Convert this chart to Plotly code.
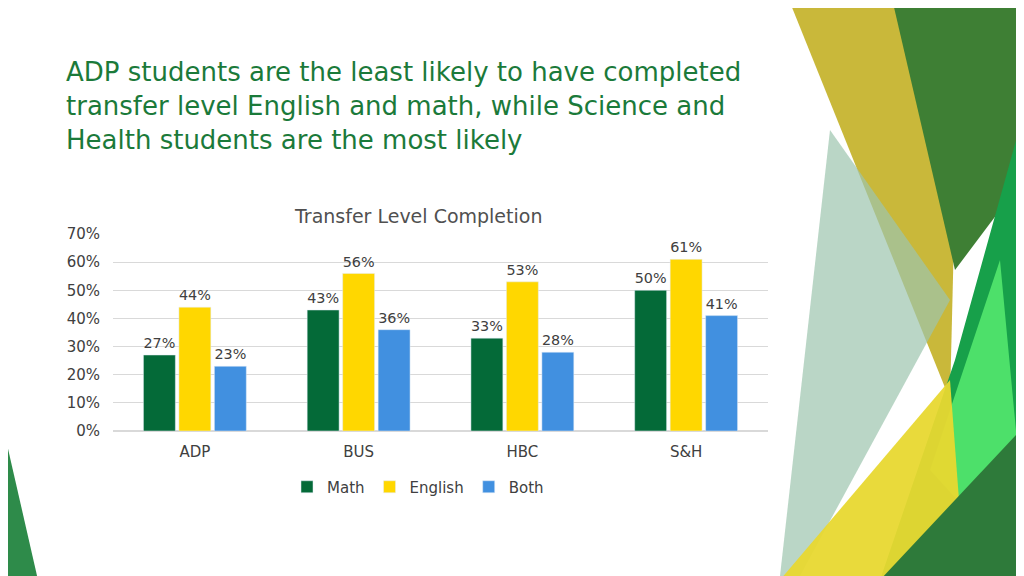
import plotly.graph_objects as go

categories = ["ADP", "BUS", "HBC", "S&H"]
math_vals = [27, 43, 33, 50]
english_vals = [44, 56, 53, 61]
both_vals = [23, 36, 28, 41]
series = [("Math", math_vals, "#046A38"), ("English", english_vals, "#FFD700"), ("Both", both_vals, "#4190E0")]

O = 8  # page body offset
W, H = 1024 - O, 576 - O
L, R, T, B = 113, 768, 234, 431
def px(x): return (x - L) / (R - L)
def py(y): return (B - y) / (B - T)
def poly(pts, color, op=1.0):
    d = "M " + " L ".join(f"{px(x)},{py(y)}" for x, y in pts) + " Z"
    return dict(type="path", path=d, xref="paper", yref="paper", fillcolor=color,
                line=dict(width=0), opacity=op, layer="below")

fig = go.Figure()
for name, vals, col in series:
    fig.add_bar(name=name, x=categories, y=vals, marker_color=col,
                text=[f"{v}%" for v in vals], textposition="outside",
                textfont=dict(color="#404040", size=15), cliponaxis=False)

shapes = [
    poly([(785, -10), (960, -10), (950, 400)], "#C9B83A"),
    poly([(890, -10), (1030, -10), (1030, 170), (955, 270)], "#3E7F34"),
    poly([(830, 130), (950, 300), (800, 576), (780, 576)], "#9CC4AE", 0.7),
    poly([(1030, 90), (1030, 580), (880, 580), (955, 360)], "#17A04A"),
    poly([(1000, 260), (1030, 580), (930, 470)], "#4DE06A"),
    poly([(780, 580), (950, 380), (965, 580)], "#E8D830", 0.95),
    poly([(880, 580), (1030, 420), (1030, 580)], "#2E7A3A"),
    poly([(-10, 370), (38, 580), (-10, 580)], "#2E8B4A"),
]

fig.update_layout(
    width=W, height=H, paper_bgcolor="white", plot_bgcolor="white",
    margin=dict(l=L - O, r=1024 - R, t=T - O, b=576 - B),
    barmode="group", bargap=0.35, bargroupgap=0.1,
    font=dict(family="DejaVu Sans", color="#404040", size=15),
    yaxis=dict(range=[0, 70], dtick=10, ticksuffix="%", gridcolor="#D9D9D9",
               zeroline=True, zerolinecolor="#D9D9D9", ticklabelstandoff=12,
               tickfont=dict(size=15, color="#404040")),
    xaxis=dict(tickfont=dict(size=15, color="#404040"), ticklabelstandoff=10),
    legend=dict(orientation="h", x=px(418), xanchor="center", y=py(487), yanchor="middle",
                font=dict(size=15), itemwidth=30),
    shapes=shapes,
    annotations=[
        dict(text="ADP students are the least likely to have completed<br>transfer level English and math, while Science and<br>Health students are the most likely",
             x=px(64), y=py(55), xref="paper", yref="paper", xanchor="left", yanchor="top",
             align="left", showarrow=False, font=dict(size=26, color="#1B7A3A", family="DejaVu Sans")),
        dict(text="Transfer Level Completion", x=px(418), y=py(203), xref="paper", yref="paper",
             showarrow=False, font=dict(size=19, color="#505050")),
    ],
)
fig.write_html("out.html")
